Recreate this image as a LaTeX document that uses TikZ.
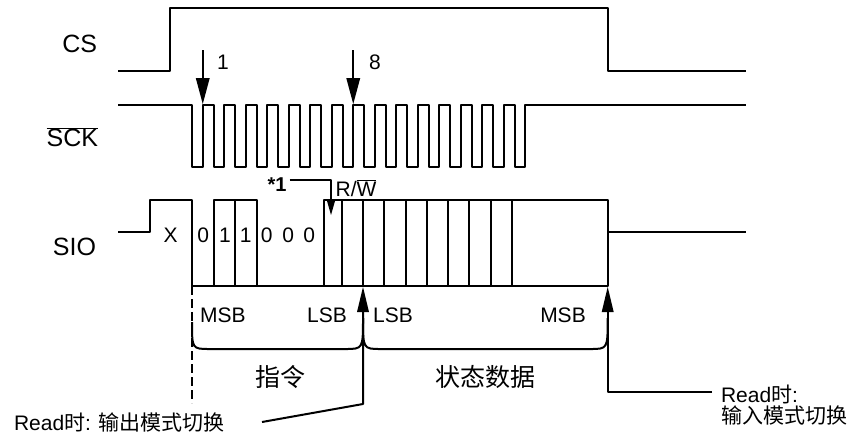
\documentclass[tikz,border=0pt]{standalone}
\usepackage{fontspec}
\setmainfont{Liberation Sans}
\newfontfamily\cjk{Noto Sans CJK SC}
\usetikzlibrary{positioning}

\begin{document}
\begin{tikzpicture}[x=1pt,y=1pt,line width=2pt,line join=round]
\tikzstyle{every node}+=[inner sep=0pt]
\tikzstyle{siglbl}=[font=\fontsize{25}{30}\selectfont]
\tikzstyle{bitlbl}=[font=\fontsize{21}{24}\selectfont]
\tikzstyle{starlbl}=[font=\fontsize{20}{24}\selectfont\bfseries]
\tikzstyle{notelbl}=[font=\fontsize{21}{21}\selectfont]
\tikzstyle{partlbl}=[font=\fontsize{25}{30}\selectfont\cjk]
\useasboundingbox (0,0) rectangle (851,-437);
% signal names
\draw (98,-44) node (lblcs) [siglbl,left] {CS};
\draw (99,-137) node (lblsck) [siglbl,left] {$\overline{\mbox{SCK}}$};
\draw (97,-247) node (lblsio) [siglbl,left] {SIO};
% CS
\draw [black] (118,-71) -- (170,-71) -- (170,-8) -- (607.7,-8) -- (607.7,-71) -- (746,-71);
% SCK, 16 clocks
\draw [black] (118,-105) \foreach \k in {0,...,15} {
  -- ({192+21.5*\k},-105) -- ({192+21.5*\k},-167)
  -- ({202.75+21.5*\k},-167) -- ({202.75+21.5*\k},-105)} -- (746,-105);
\draw [black] (202.75,-50) -- (202.75,-80);
\fill [black] (202.75,-104) -- (195.75,-78) -- (209.75,-78) -- cycle;
\draw (223,-62) node (lblclk1) [bitlbl] {1};
\draw [black] (353.25,-50) -- (353.25,-80);
\fill [black] (353.25,-104) -- (346.25,-78) -- (360.25,-78) -- cycle;
\draw (375,-62) node (lblclk8) [bitlbl] {8};
% SIO
\draw [black] (118,-232) -- (150,-232) -- (150,-200) -- (192,-200) -- (192,-286) -- (607.7,-286) -- (607.7,-200) -- (324,-200) -- (324,-286);
\draw [black] (214,-286) -- (214,-200) -- (256.5,-200) -- (256.5,-286);
\draw [black] (235,-200) -- (235,-286);
\foreach \x in {341.7,362.7,384.3,405.7,426.7,447.7,469.3,490.7,512.3}
  \draw [black] (\x,-200) -- (\x,-286);
\draw [black] (607.7,-232) -- (746,-232);
\draw (170.7,-235) node (bitx) [bitlbl] {X};
\draw (203.3,-235) node (bit1) [bitlbl] {0};
\draw (225,-235) node (bit2) [bitlbl] {1};
\draw (245.7,-235) node (bit3) [bitlbl] {1};
\draw (266.7,-235) node (bit4) [bitlbl] {0};
\draw (288.3,-235) node (bit5) [bitlbl] {0};
\draw (309.3,-235) node (bit6) [bitlbl] {0};
\draw (277,-185) node (lblstar) [starlbl] {*1};
\draw [black,line width=1.6pt] (289.5,-180) -- (331,-180) -- (331,-203);
\fill [black] (331,-215) -- (327,-201) -- (335,-201) -- cycle;
\draw (356,-188) node (lblrw) [bitlbl] {R/$\overline{\mbox{W}}$};
% braces and turnaround
\draw [black,line width=1.6pt,dash pattern=on 9pt off 4pt] (192,-286) -- (192,-403);
\draw [black] (192,-322) .. controls (192,-349) .. (210,-349) -- (345,-349) .. controls (363,-349) .. (363,-318);
\draw [black] (363,-318) .. controls (363,-349) .. (381,-349) -- (590,-349) .. controls (607.7,-349) .. (607.7,-318);
\draw (223,-315) node (msbcmd) [notelbl] {MSB};
\draw (327,-315) node (lsbcmd) [notelbl] {LSB};
\draw (393,-315) node (lsbdat) [notelbl] {LSB};
\draw (563,-315) node (msbdat) [notelbl] {MSB};
\draw (280,-377) node (lblcmd) [partlbl] {指令};
\draw (485,-377) node (lbldat) [partlbl] {状态数据};
\draw (13,-423) node (lblout) [notelbl,right] {Read{\cjk 时}: {\cjk 输出模式切换}};
\draw (720,-405) node (lblin) [notelbl,right,align=left] {Read{\cjk 时}:\\{\cjk 输入模式切换}};
\coordinate (outend) at (262,-422);
\coordinate (inend) at (712,-392);
\draw [black] (outend) -- (363,-404) -- (363,-308);
\fill [black] (363,-287) -- (357,-312) -- (369,-312) -- cycle;
\draw [black] (inend) -- (607.7,-392) -- (607.7,-308);
\fill [black] (607.7,-287) -- (601.7,-312) -- (613.7,-312) -- cycle;
\end{tikzpicture}
\end{document}
